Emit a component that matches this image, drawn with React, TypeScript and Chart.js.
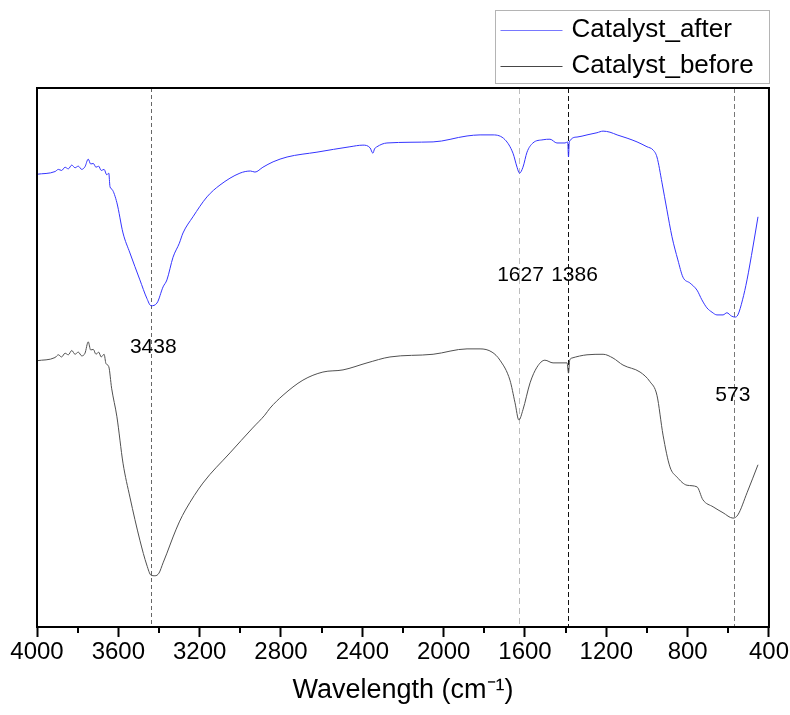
import React, { useEffect, useRef } from 'react';
import { Chart, registerables } from 'chart.js';

Chart.register(...registerables);

// ---------- data ----------
const seriesLabels = ['Catalyst_after', 'Catalyst_before'];

const afterWavenumbers = [
  4000, 3911, 3895, 3879, 3862, 3846, 3829, 3813, 3797, 3780, 3764, 3748, 3736, 3723, 3710, 3697,
  3684, 3670, 3657, 3647, 3641, 3631, 3607, 3577, 3543, 3494, 3460, 3439, 3410, 3380, 3361, 3331,
  3300, 3282, 3233, 3164, 3100, 3002, 2950, 2928, 2889, 2839, 2770, 2623, 2461, 2397, 2362, 2348,
  2340, 2328, 2279, 2052, 1885, 1821, 1757, 1698, 1659, 1639, 1627, 1610, 1590, 1561, 1511, 1477,
  1443, 1403, 1390, 1386, 1382, 1344, 1295, 1246, 1216, 1182, 1147, 1098, 1049, 1000, 970, 951,
  926, 902, 877, 848, 823, 788, 754, 730, 705, 680, 656, 626, 607, 585, 567, 553, 530, 508, 479,
  454,
];
const afterValues = [
  84.0, 84.5, 84.9, 84.7, 85.3, 85.0, 85.7, 85.2, 85.5, 84.9, 85.4, 86.8, 85.9, 86.0, 85.3, 85.5,
  84.7, 84.9, 83.9, 84.2, 81.7, 81.2, 78.7, 73.1, 69.4, 64.4, 61.0, 59.6, 60.1, 63.1, 64.4, 68.6,
  71.2, 73.1, 76.1, 79.8, 82.0, 84.2, 84.6, 84.4, 85.3, 86.3, 87.2, 88.1, 89.1, 89.4, 88.9, 87.9,
  88.7, 89.1, 89.8, 90.0, 91.1, 91.3, 91.3, 90.4, 87.9, 85.3, 84.2, 85.3, 88.1, 89.8, 90.4, 90.5,
  89.8, 89.8, 90.0, 87.2, 90.0, 90.9, 91.3, 91.7, 92.0, 91.8, 91.3, 90.7, 90.0, 89.1, 88.5, 87.2,
  82.4, 77.4, 72.4, 68.1, 64.9, 63.8, 62.5, 60.7, 59.2, 58.4, 57.9, 57.9, 58.3, 57.7, 57.5, 57.9,
  60.7, 64.4, 70.5, 76.1,
];

const beforeWavenumbers = [
  4000, 3911, 3895, 3879, 3862, 3846, 3829, 3813, 3797, 3780, 3764, 3748, 3736, 3723, 3710, 3697,
  3684, 3670, 3661, 3647, 3633, 3607, 3577, 3543, 3494, 3460, 3439, 3420, 3400, 3380, 3361, 3331,
  3300, 3270, 3184, 3051, 2940, 2880, 2854, 2790, 2692, 2594, 2495, 2377, 2264, 2052, 1885, 1821,
  1762, 1723, 1674, 1649, 1630, 1610, 1575, 1541, 1502, 1462, 1393, 1386, 1380, 1369, 1295, 1216,
  1167, 1118, 1034, 985, 951, 921, 887, 852, 803, 754, 725, 675, 626, 577, 553, 508, 454,
];
const beforeValues = [
  49.4, 50.0, 50.5, 50.1, 50.8, 50.5, 51.3, 50.6, 51.0, 50.3, 50.8, 52.9, 51.4, 51.5, 50.6, 51.0,
  50.1, 50.6, 48.9, 48.3, 44.3, 39.0, 30.4, 24.1, 16.1, 11.5, 9.6, 9.5, 10.0, 11.9, 13.7, 16.7,
  19.5, 21.7, 26.7, 32.3, 36.9, 39.3, 40.6, 43.0, 45.8, 47.3, 47.7, 49.0, 50.1, 50.6, 51.6, 51.6,
  51.0, 49.5, 45.8, 41.6, 38.4, 40.3, 45.3, 48.2, 49.5, 49.0, 49.0, 47.1, 49.5, 49.9, 50.5, 50.6,
  49.9, 48.6, 47.3, 45.5, 43.0, 35.6, 29.7, 27.8, 26.3, 26.0, 23.6, 22.3, 21.2, 20.2, 20.8, 24.9,
  30.1,
];

const xMajorTicks = [4000, 3600, 3200, 2800, 2400, 2000, 1600, 1200, 800, 400];
const xMinorTicks = [3800, 3400, 3000, 2600, 2200, 1800, 1400, 1000, 600];

const peakPositions = [3438, 1627, 1386, 573];
const peakLabels = ['3438', '1627', '1386', '573'];

// ---------- styles ----------
const FONT = "'Liberation Sans', Arial, sans-serif";
const seriesColors = ['rgb(52,52,255)', 'rgb(80,80,80)'];
const legendLineColors = ['rgb(120,120,255)', 'rgb(70,70,70)'];
const peakLineStyles = [
  { color: '#666666', dash: [4, 3] },
  { color: '#bdbdbd', dash: [6, 4] },
  { color: '#111111', dash: [5, 3] },
  { color: '#777777', dash: [5, 3] },
];
// label placement (pixel offset from line, value level on hidden y axis)
const peakLabelStyle = [
  { dx: 2, level: 52.0 },
  { dx: 1, level: 65.3 },
  { dx: 6, level: 65.3 },
  { dx: -1, level: 43.0 },
];

const decorPlugin = {
  id: 'decor',
  beforeDatasetsDraw(chart: any) {
    const { ctx, chartArea: a, scales } = chart;
    const x = scales.x;
    peakPositions.forEach((p, i) => {
      const px = Math.round(x.getPixelForValue(p)) + 0.5;
      ctx.save();
      ctx.strokeStyle = peakLineStyles[i].color;
      ctx.setLineDash(peakLineStyles[i].dash);
      ctx.lineWidth = 1;
      ctx.beginPath();
      ctx.moveTo(px, a.top);
      ctx.lineTo(px, a.bottom);
      ctx.stroke();
      ctx.restore();
    });
  },
  afterDraw(chart: any) {
    const { ctx, chartArea: a, scales } = chart;
    const x = scales.x;
    const y = scales.y;
    ctx.save();
    // peak labels
    ctx.fillStyle = '#000';
    ctx.font = `21px ${FONT}`;
    ctx.textAlign = 'center';
    ctx.textBaseline = 'middle';
    peakLabels.forEach((t, i) => {
      const px = x.getPixelForValue(peakPositions[i]) + peakLabelStyle[i].dx;
      const py = y.getPixelForValue(peakLabelStyle[i].level);
      ctx.fillText(t, px, py);
    });
    // minor ticks
    ctx.strokeStyle = '#000';
    ctx.lineWidth = 2;
    xMinorTicks.forEach((v) => {
      const px = Math.round(x.getPixelForValue(v));
      ctx.beginPath();
      ctx.moveTo(px, a.bottom);
      ctx.lineTo(px, a.bottom + 6);
      ctx.stroke();
    });
    // frame
    ctx.strokeRect(a.left, a.top, a.right - a.left, a.bottom - a.top);
    // legend
    const boxW = 274;
    const boxH = 73;
    const bx = Math.round(a.right - boxW) + 0.5;
    const by = 10.5;
    ctx.lineWidth = 1;
    ctx.strokeStyle = '#b4b4b4';
    ctx.fillStyle = '#fff';
    ctx.fillRect(bx, by, boxW, boxH);
    ctx.strokeRect(bx, by, boxW, boxH);
    ctx.font = `26px ${FONT}`;
    ctx.textAlign = 'left';
    ctx.textBaseline = 'middle';
    seriesLabels.forEach((lab, i) => {
      const ly = by + 19.5 + i * 35.5;
      ctx.strokeStyle = legendLineColors[i];
      ctx.lineWidth = 1;
      ctx.beginPath();
      ctx.moveTo(bx + 5, Math.round(ly) + 0.5);
      ctx.lineTo(bx + 67, Math.round(ly) + 0.5);
      ctx.stroke();
      ctx.fillStyle = '#000';
      ctx.fillText(lab, bx + 76, ly);
    });
    ctx.restore();
  },
};

function toPoints(xs: number[], ys: number[]) {
  return xs.map((v, i) => ({ x: v, y: ys[i] }));
}

export default function App() {
  const ref = useRef<HTMLCanvasElement | null>(null);
  useEffect(() => {
    if (!ref.current) return;
    const chart = new Chart(ref.current, {
      type: 'line',
      data: {
        datasets: [
          {
            label: seriesLabels[0],
            data: toPoints(afterWavenumbers, afterValues),
            borderColor: seriesColors[0],
            borderWidth: 1,
            pointRadius: 0,
            cubicInterpolationMode: 'monotone',
            fill: false,
          },
          {
            label: seriesLabels[1],
            data: toPoints(beforeWavenumbers, beforeValues),
            borderColor: seriesColors[1],
            borderWidth: 1,
            pointRadius: 0,
            cubicInterpolationMode: 'monotone',
            fill: false,
          },
        ],
      },
      options: {
        animation: false,
        responsive: false,
        maintainAspectRatio: false,
        layout: { padding: { left: 37, right: 21, top: 88, bottom: 0 } },
        plugins: {
          legend: { display: false },
          tooltip: { enabled: false },
        },
        scales: {
          x: {
            type: 'linear',
            reverse: true,
            min: 400,
            max: 4000,
            afterBuildTicks: (scale: any) => {
              scale.ticks = xMajorTicks.map((v) => ({ value: v }));
            },
            afterFit: (scale: any) => {
              scale.height = 88;
            },
            ticks: {
              autoSkip: false,
              maxRotation: 0,
              padding: 1,
              color: '#000',
              font: { family: FONT, size: 24 },
              callback: (v: any) => String(v),
            },
            grid: {
              display: true,
              drawOnChartArea: false,
              drawTicks: true,
              tickLength: 10,
              tickWidth: 2,
              tickColor: '#000',
            },
            border: { display: true, color: '#000', width: 2 },
            title: {
              display: true,
              text: 'Wavelength (cm⁻¹)',
              color: '#000',
              font: { family: FONT, size: 27 },
              padding: { top: 0, bottom: 8 },
            },
          },
          y: {
            type: 'linear',
            display: false,
            min: 0,
            max: 100,
          },
        },
      },
      plugins: [decorPlugin],
    } as any);
    return () => chart.destroy();
  }, []);
  return (
    <div style={{ position: 'absolute', left: 0, top: 0, width: 790, height: 715, background: '#fff' }}>
      <canvas ref={ref} width={790} height={715} />
    </div>
  );
}
